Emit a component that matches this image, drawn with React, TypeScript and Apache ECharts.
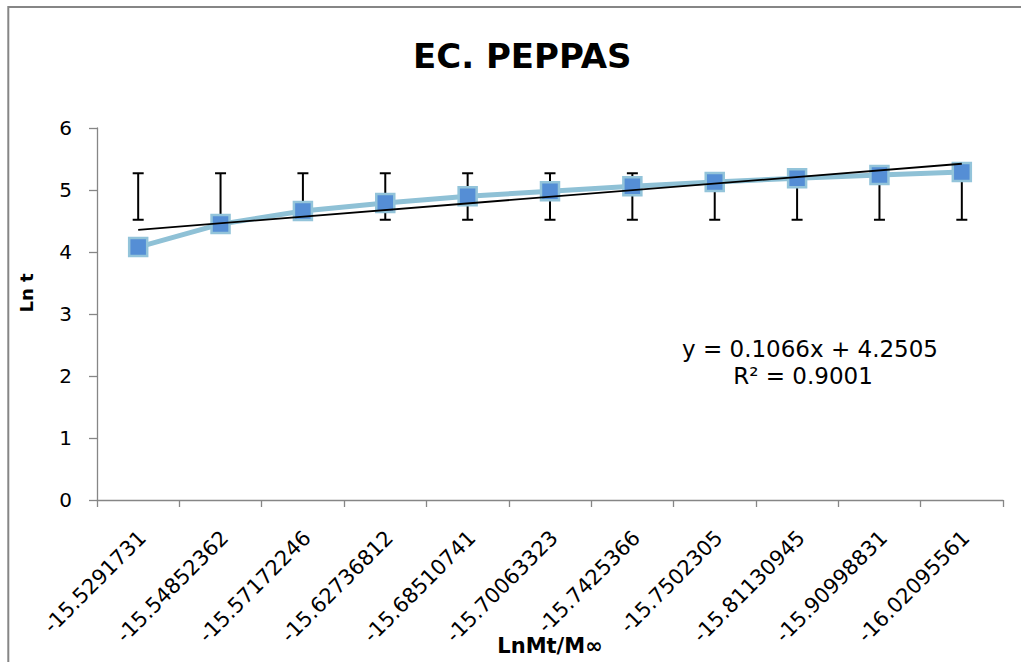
import React, { useEffect, useRef } from 'react';
import * as echarts from 'echarts';

const categories = [
  '-15.5291731', '-15.54852362', '-15.57172246', '-15.62736812', '-15.68510741',
  '-15.70063323', '-15.7425366', '-15.7502305', '-15.81130945', '-15.90998831', '-16.02095561',
];
const lnT = [4.08, 4.45, 4.66, 4.79, 4.9, 4.98, 5.06, 5.13, 5.19, 5.24, 5.29];
const errLow = [4.52, 4.52, 4.52, 4.52, 4.52, 4.52, 4.52, 4.52, 4.52, 4.52, 4.52];
const errHigh = [5.27, 5.27, 5.27, 5.27, 5.27, 5.27, 5.27, 5.27, 5.27, 5.27, 5.27];
const trendSlope = 0.1066;
const trendIntercept = 4.2505;
const yTicks = [0, 1, 2, 3, 4, 5, 6];
const titleText = 'EC. PEPPAS';
const eqLine1 = 'y = 0.1066x + 4.2505';
const eqLine2 = 'R² = 0.9001';

const FONT = 'DejaVu Sans';
const AXIS_COLOR = '#868686';

export default function App() {
  const ref = useRef<HTMLDivElement>(null);
  useEffect(() => {
    document.body.style.margin = '0';
    const chart = echarts.init(ref.current!, null, { renderer: 'svg' });
    const n = categories.length;
    const trendData = [
      [categories[0], trendIntercept + trendSlope * 1],
      [categories[n - 1], trendIntercept + trendSlope * n],
    ];
    const errData = categories.map((_, i) => [i, errLow[i], errHigh[i]]);
    chart.setOption({
      animation: false,
      backgroundColor: '#ffffff',
      title: {
        text: titleText,
        left: 408,
        top: 34,
        textStyle: { fontFamily: FONT, fontSize: 34, fontWeight: 'bold', color: '#000' },
      },
      graphic: [
        {
          type: 'rect',
          shape: { x: 8.3, y: 7, width: 1200, height: 900 },
          style: { fill: 'none', stroke: AXIS_COLOR, lineWidth: 2 },
          silent: true,
          z: -10,
        },
        {
          type: 'text',
          x: 810,
          y: 349,
          style: { text: eqLine1, fontFamily: FONT, fontSize: 23, fill: '#000', align: 'center', verticalAlign: 'middle' },
        },
        {
          type: 'text',
          x: 803,
          y: 376,
          style: { text: eqLine2, fontFamily: FONT, fontSize: 23, fill: '#000', align: 'center', verticalAlign: 'middle' },
        },
      ],
      grid: { left: 97, top: 128, width: 906, height: 372, containLabel: false, outerBoundsMode: 'none' },
      xAxis: {
        type: 'category',
        data: categories,
        boundaryGap: true,
        name: 'LnMt/M∞',
        nameLocation: 'middle',
        nameGap: 135,
        nameMoveOverlap: false,
        nameTextStyle: { fontFamily: FONT, fontSize: 21, fontWeight: 'bold', color: '#000' },
        axisLine: { show: true, lineStyle: { color: AXIS_COLOR, width: 1.3 } },
        axisTick: { show: true, alignWithLabel: false, interval: 0, length: 7, lineStyle: { color: AXIS_COLOR, width: 1.3 } },
        axisLabel: {
          interval: 0,
          rotate: 45,
          margin: 30,
          verticalAlign: 'top',
          lineHeight: 12,
          fontFamily: FONT,
          fontSize: 21,
          color: '#000',
        },
        splitLine: { show: false },
      },
      yAxis: {
        type: 'value',
        min: yTicks[0],
        max: yTicks[yTicks.length - 1],
        interval: 1,
        name: 'Ln t',
        nameLocation: 'middle',
        nameGap: 62,
        nameRotate: 90,
        nameMoveOverlap: false,
        nameTextStyle: { fontFamily: FONT, fontSize: 18, fontWeight: 'bold', color: '#000', padding: [0, 0, 0, 42] },
        axisLine: { show: true, lineStyle: { color: AXIS_COLOR, width: 1.3 } },
        axisTick: { show: true, length: 8, lineStyle: { color: AXIS_COLOR, width: 1.3 } },
        axisLabel: { margin: 25, fontFamily: FONT, fontSize: 20, color: '#000' },
        splitLine: { show: false },
      },
      series: [
        {
          type: 'custom',
          name: 'error',
          z: 1,
          data: errData,
          encode: { x: 0, y: [1, 2] },
          renderItem: (params: any, api: any) => {
            const lo = api.coord([api.value(0), api.value(1)]);
            const hi = api.coord([api.value(0), api.value(2)]);
            const hw = 5.5;
            const st = { stroke: '#000', lineWidth: 2 };
            return {
              type: 'group',
              children: [
                { type: 'line', shape: { x1: lo[0], y1: lo[1], x2: hi[0], y2: hi[1] }, style: st },
                { type: 'line', shape: { x1: lo[0] - hw, y1: lo[1], x2: lo[0] + hw, y2: lo[1] }, style: st },
                { type: 'line', shape: { x1: hi[0] - hw, y1: hi[1], x2: hi[0] + hw, y2: hi[1] }, style: st },
              ],
            };
          },
        },
        {
          type: 'line',
          name: 'Ln t',
          z: 2,
          data: lnT,
          symbol: 'rect',
          symbolSize: 18,
          lineStyle: { color: '#8fc1d6', width: 5 },
          itemStyle: { color: '#558ed5', borderColor: '#93c4da', borderWidth: 2.5 },
        },
        {
          type: 'line',
          name: 'trend',
          z: 3,
          data: trendData,
          symbol: 'none',
          lineStyle: { color: '#000', width: 1.8 },
        },
      ],
    });
    return () => chart.dispose();
  }, []);
  return <div ref={ref} style={{ width: 1021, height: 662 }} />;
}
